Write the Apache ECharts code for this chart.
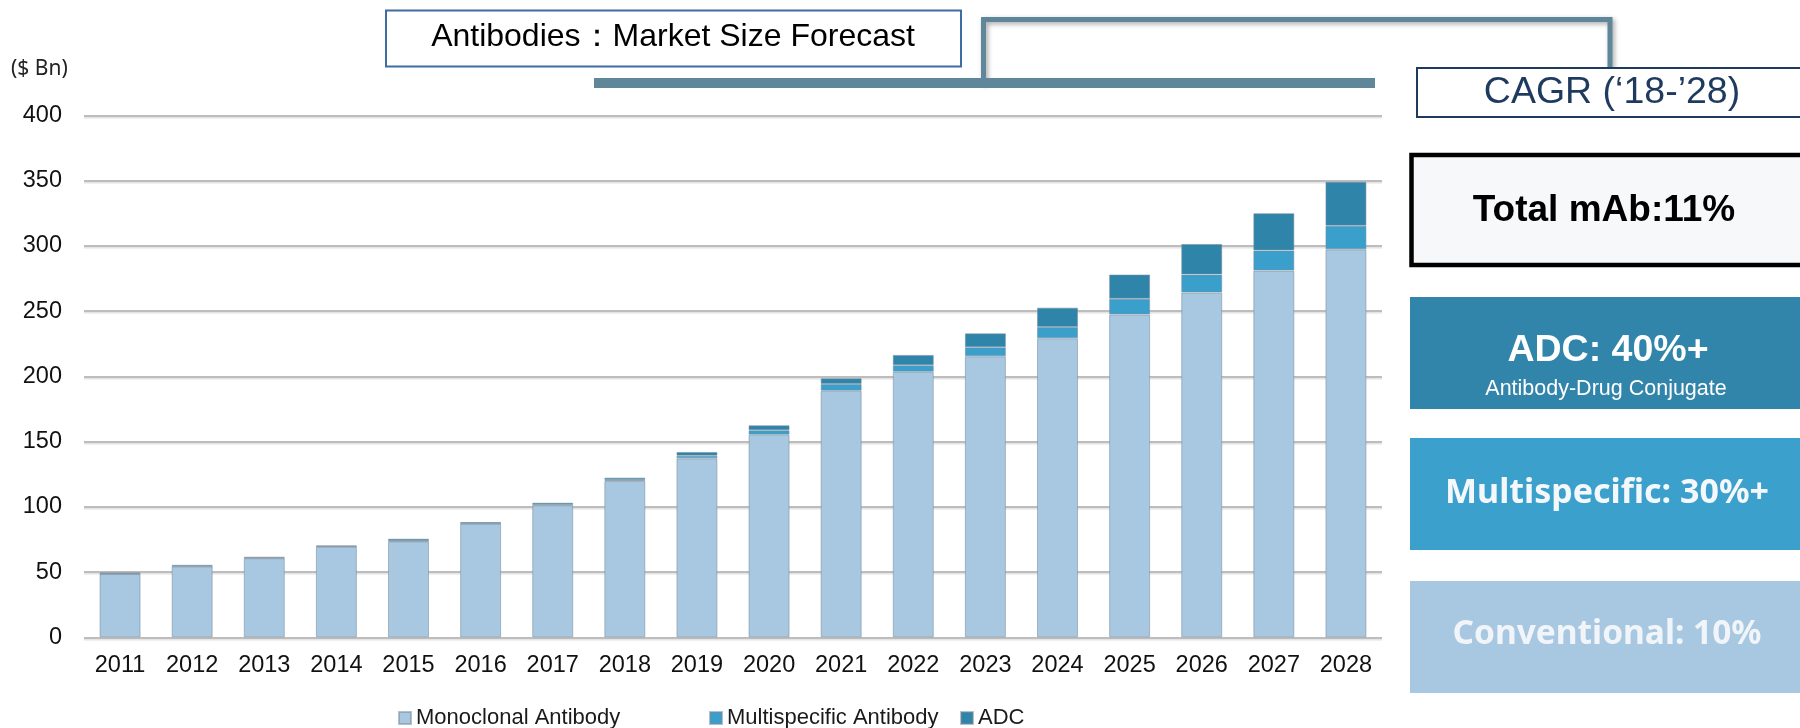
<!DOCTYPE html>
<html>
<head>
<meta charset="utf-8">
<title>Antibodies: Market Size Forecast</title>
<script src="https://cdn.jsdelivr.net/npm/echarts@6/dist/echarts.min.js"></script>
<style>
  html, body { margin: 0; padding: 0; background: #ffffff; }
  #chart { width: 1800px; height: 728px; }
</style>
</head>
<body>
<div id="chart"></div>
<script>
// Market size by antibody type ($ Bn)
const years = ['2011', '2012', '2013', '2014', '2015', '2016', '2017', '2018', '2019',
  '2020', '2021', '2022', '2023', '2024', '2025', '2026', '2027', '2028'];
const monoclonal = [48.5, 54.3, 60.6, 69.4, 73.3, 87.0, 101.2, 119.8, 137.2,
  155.3, 189.0, 203.5, 215.4, 229.2, 247.5, 264.3, 281.1, 297.4];
const multispecific = [0.3, 0.3, 0.3, 0.3, 0.5, 0.3, 0.4, 0.8, 2.0,
  3.4, 5.1, 5.1, 6.9, 8.7, 12.0, 13.8, 15.5, 18.1];
const adc = [0.9, 1.0, 0.8, 0.7, 1.8, 1.0, 1.6, 1.8, 2.8,
  3.8, 4.5, 7.9, 10.7, 14.8, 18.6, 23.4, 28.5, 33.7];
const seriesNames = ['Monoclonal Antibody', 'Multispecific Antibody', 'ADC'];
const yTicks = { min: 0, max: 400, interval: 50 };

// Headings and CAGR panel text
const titleText = 'Antibodies\uFF1AMarket Size Forecast';
const unitText = '($ Bn)';
const cagrTitle = 'CAGR (\u201818-\u201928)';
const cagrTotal = 'Total mAb:11%';
const cagrAdc = 'ADC: 40%+';
const cagrAdcSub = 'Antibody-Drug Conjugate';
const cagrMulti = 'Multispecific: 30%+';
const cagrConv = 'Conventional: 10%';

const C_MONO = '#a7c8e0';
const C_MULTI = '#3b9fcc';
const C_ADC = '#2f84a9';
const C_BRACKET = '#5f8699';
const SANS = '"Liberation Sans", Arial, sans-serif';
const NOTO = '"Noto Sans", "DejaVu Sans", sans-serif';

const chart = echarts.init(document.getElementById('chart'), null, { renderer: 'canvas' });

function barSeries(name, data, color) {
  return {
    name: name,
    type: 'bar',
    stack: 'total',
    data: data,
    barWidth: 41,
    itemStyle: { color: color, borderColor: 'rgba(120,140,158,0.55)', borderWidth: 1 },
    emphasis: { disabled: true }
  };
}

// one legend entry per series, laid out along the bottom
function legendEntry(name, left) {
  return {
    data: [name],
    left: left, top: 707, padding: 0,
    icon: 'rect', itemWidth: 12, itemHeight: 12,
    textStyle: { fontFamily: SANS, fontSize: 22, color: '#1a1a1a' }
  };
}

function centered(text, x, y, font, fill) {
  return {
    type: 'text', x: x, y: y, z: 20,
    style: { text: text, font: font, fill: fill, textAlign: 'center', textVerticalAlign: 'middle', align: 'center', verticalAlign: 'middle' }
  };
}

const option = {
  backgroundColor: '#ffffff',
  animation: false,
  grid: { left: 84, right: 418, top: 115.5, bottom: 90.7 },
  legend: [
    legendEntry(seriesNames[0], 398),
    legendEntry(seriesNames[1], 709),
    legendEntry(seriesNames[2], 960)
  ],
  xAxis: {
    type: 'category',
    data: years,
    axisLine: { show: false },
    axisTick: { show: false },
    axisLabel: { fontFamily: SANS, fontSize: 23.5, color: '#111', margin: 16 }
  },
  yAxis: {
    type: 'value',
    min: yTicks.min, max: yTicks.max, interval: yTicks.interval,
    axisLine: { show: false },
    axisTick: { show: false },
    axisLabel: { fontFamily: SANS, fontSize: 23.5, color: '#111', margin: 22 },
    splitLine: {
      lineStyle: { color: '#bdbdbd', width: 2, shadowColor: 'rgba(0,0,0,0.12)', shadowOffsetY: 1.5, shadowBlur: 1 }
    }
  },
  series: [
    barSeries(seriesNames[0], monoclonal, C_MONO),
    barSeries(seriesNames[1], multispecific, C_MULTI),
    barSeries(seriesNames[2], adc, C_ADC)
  ],
  graphic: [
    // unit label
    { type: 'text', x: 11, y: 69, style: { text: unitText, font: '21px ' + NOTO, fill: '#222', textVerticalAlign: 'middle', verticalAlign: 'middle' } },
    // bracket linking the chart to the CAGR panel
    {
      type: 'polyline', z: 5,
      shape: { points: [[983.5, 84], [983.5, 19.5], [1610, 19.5], [1610, 68]] },
      style: { stroke: C_BRACKET, lineWidth: 5, fill: null, shadowBlur: 5, shadowColor: 'rgba(0,0,0,0.35)', shadowOffsetX: 2, shadowOffsetY: 2 }
    },
    { type: 'rect', z: 6, shape: { x: 594, y: 78, width: 781, height: 10 }, style: { fill: C_BRACKET } },
    // title box
    { type: 'rect', z: 6, shape: { x: 386, y: 10.5, width: 575, height: 56 }, style: { fill: '#ffffff', stroke: '#3d6da3', lineWidth: 2 } },
    centered(titleText, 673, 37.5, '32px ' + SANS, '#000'),
    // CAGR header
    { type: 'rect', z: 6, shape: { x: 1417, y: 68, width: 400, height: 49 }, style: { fill: '#ffffff', stroke: '#1f3a5f', lineWidth: 2 } },
    centered(cagrTitle, 1612, 93, '37.5px ' + SANS, '#1f3a5f'),
    // total
    { type: 'rect', z: 6, shape: { x: 1411.5, y: 155, width: 400, height: 110 }, style: { fill: '#f7f8fa', stroke: '#000000', lineWidth: 4.5 } },
    centered(cagrTotal, 1604, 211, 'bold 37px ' + SANS, '#000'),
    // ADC
    { type: 'rect', z: 6, shape: { x: 1410, y: 297, width: 400, height: 112 }, style: { fill: '#3184aa' } },
    centered(cagrAdc, 1608, 351, 'bold 37.5px ' + SANS, '#ffffff'),
    centered(cagrAdcSub, 1606, 389, '21.5px ' + SANS, '#ffffff'),
    // Multispecific
    { type: 'rect', z: 6, shape: { x: 1410, y: 438, width: 400, height: 112 }, style: { fill: '#3ca0cc' } },
    centered(cagrMulti, 1607, 493, 'bold 34px ' + NOTO, '#f5f8fb'),
    // Conventional
    { type: 'rect', z: 6, shape: { x: 1410, y: 581, width: 400, height: 112 }, style: { fill: '#a8c8e1' } },
    centered(cagrConv, 1607, 634, 'bold 33.5px ' + NOTO, '#f1f5f9')
  ]
};

chart.setOption(option);
</script>
</body>
</html>
